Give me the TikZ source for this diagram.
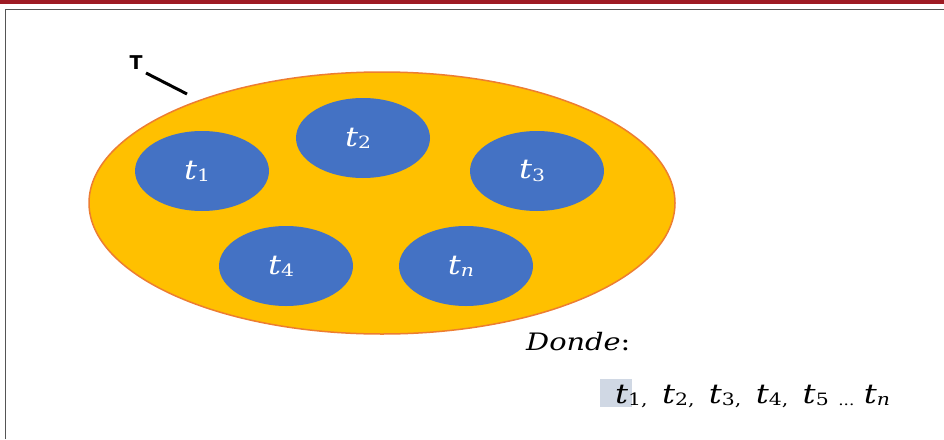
\documentclass[tikz,border=0pt]{standalone}
\usepackage{tikz}
\usepackage{graphicx}
\usepackage{fontspec}
\setmainfont{DejaVu Serif}
\setsansfont{DejaVu Sans}
\usetikzlibrary{shapes.geometric}
\definecolor{band}{HTML}{9E1B24}
\definecolor{frame}{HTML}{555555}
\definecolor{gold}{HTML}{FFC000}
\definecolor{edge}{HTML}{ED7D31}
\definecolor{blu}{HTML}{4472C4}
\definecolor{hl}{HTML}{D0D8E4}
\newcommand{\tsb}[1]{{\fontsize{27}{30}\selectfont\itshape t}\raisebox{-0.22em}{\fontsize{17}{18}\selectfont #1}}
\newcommand{\wide}[1]{\scalebox{1.2}[1]{#1}}
\begin{document}
\begin{tikzpicture}[x=1pt,y=-1pt,
  sub/.style={ellipse, draw=none, fill=blu, minimum width=134pt, minimum height=80pt, inner sep=0pt, text=white},
  big/.style={ellipse, draw=edge, line width=1.5pt, fill=gold, minimum width=586pt, minimum height=262pt},
  txt/.style={inner sep=0pt}]
\useasboundingbox (0,0) rectangle (944,439);
\fill[white] (0,0) rectangle (944,439);
\fill[band] (0,0) rectangle (944,3.5);
\draw[frame, line width=1.2pt] (5.5,439) -- (5.5,9.5) -- (944,9.5);
\node[big] (T) at (382,203) {};
\node[sub] (t1) at (202,171) {};
\node[sub] (t2) at (363,138) {};
\node[sub] (t3) at (537,171) {};
\node[sub] (t4) at (286,266) {};
\node[sub] (tn) at (466,266) {};
\node[txt, text=white] (l1) at ([xshift=-5pt]t1.center) {\wide{\tsb{1}}};
\node[txt, text=white] (l2) at ([xshift=-5pt]t2.center) {\wide{\tsb{2}}};
\node[txt, text=white] (l3) at ([xshift=-5pt]t3.center) {\wide{\tsb{3}}};
\node[txt, text=white] (l4) at ([xshift=-5pt]t4.center) {\wide{\tsb{4}}};
\node[txt, text=white] (ln) at ([xshift=-5pt]tn.center) {\wide{\tsb{\itshape n}}};
\node[txt, font=\sffamily\bfseries\fontsize{19}{20}\selectfont] (lab) at (136,63) {T};
\coordinate (la) at (146,73);
\coordinate (lb) at (187,94);
\draw[line width=3pt] (la) -- (lb);
\node[txt, anchor=base west] (donde) at (526,350) {\wide{{\fontsize{24}{28}\selectfont\itshape Donde}{\fontsize{24}{28}\selectfont:}}};
\fill[hl] (600,379) rectangle (632,407);
\node[txt, anchor=base west] (list) at (615,403) {\wide{\tsb{1,}\hspace{12pt}\tsb{2,}\hspace{12pt}\tsb{3,}\hspace{12pt}\tsb{4,}\hspace{12pt}\tsb{5}\hspace{8pt}\raisebox{-0.2em}{\fontsize{14}{14}\selectfont...}\hspace{8pt}\tsb{\itshape n}}};
\end{tikzpicture}
\end{document}
